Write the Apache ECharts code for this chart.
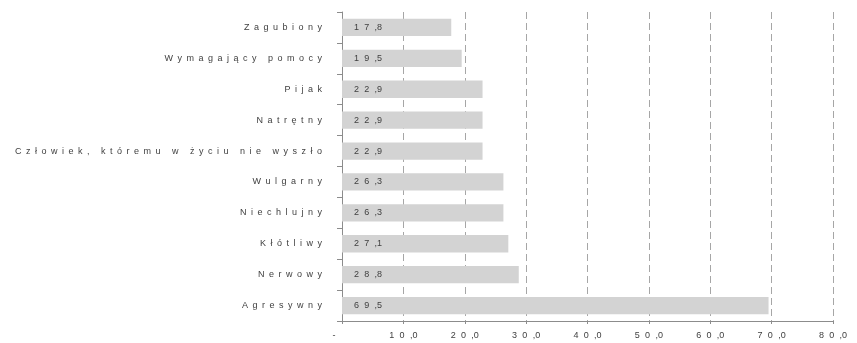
<!DOCTYPE html>
<html>
<head>
<meta charset="utf-8">
<script src="https://cdn.jsdelivr.net/npm/echarts@6/dist/echarts.min.js"></script>
<style>
  html, body { margin: 0; padding: 0; background: #fff; }
  #chart { width: 857px; height: 343px; }
</style>
</head>
<body>
<div id="chart"></div>
<script>
// kategorie od góry do dołu
const categories = [
  'Zagubiony',
  'Wymagający pomocy',
  'Pijak',
  'Natrętny',
  'Człowiek, któremu w życiu nie wyszło',
  'Wulgarny',
  'Niechlujny',
  'Kłótliwy',
  'Nerwowy',
  'Agresywny'
]
const values = [17.8, 19.5, 22.9, 22.9, 22.9, 26.3, 26.3, 27.1, 28.8, 69.5]

// rozstrzelony tekst, jak w oryginale
const GAP = '\u2002\u200a'
const spaced = s => s.split('').join('\u2002')
const spacedNum = s => s.split('').join(GAP).replace(GAP + ',' + GAP, GAP + ',')
const fmt = v => (v === 0 ? '-' + GAP + GAP + GAP : spacedNum(v.toFixed(1).replace('.', ',')))

const chart = echarts.init(document.getElementById('chart'))
chart.setOption({
  animation: false,
  grid: { left: 342, right: 24, top: 12, bottom: 22 },
  xAxis: {
    type: 'value',
    min: 0,
    max: 80,
    interval: 10,
    axisLine: { show: true, lineStyle: { color: '#8c8c8c' } },
    axisTick: { show: true, length: 3, lineStyle: { color: '#8c8c8c' } },
    axisLabel: {
      formatter: fmt,
      color: '#404040',
      fontFamily: 'Liberation Sans',
      fontSize: 9,
      margin: 10
    },
    splitLine: { show: true, lineStyle: { color: '#a6a6a6', type: [7, 4] } }
  },
  yAxis: {
    type: 'category',
    data: categories,
    inverse: true,
    axisLine: { show: true, lineStyle: { color: '#8c8c8c' } },
    axisTick: { show: true, length: 5, lineStyle: { color: '#8c8c8c' } },
    axisLabel: {
      formatter: spaced,
      color: '#404040',
      fontFamily: 'Liberation Sans',
      fontSize: 9,
      margin: 20
    }
  },
  series: [{
    type: 'bar',
    data: values,
    barWidth: '56%',
    itemStyle: { color: '#d3d3d3' },
    label: {
      show: true,
      position: 'insideLeft',
      distance: 12,
      formatter: p => fmt(p.value),
      color: '#404040',
      fontFamily: 'Liberation Sans',
      fontSize: 9
    }
  }]
})
</script>
</body>
</html>
